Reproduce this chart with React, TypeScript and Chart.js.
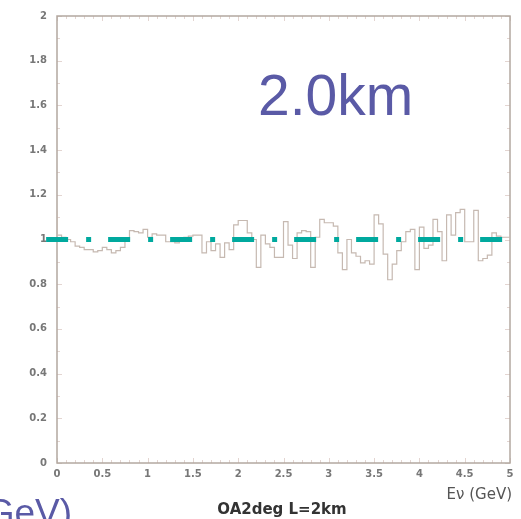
import React, { useEffect, useRef } from "react";
import { Chart, registerables } from "chart.js";

Chart.register(...registerables);

// ---- data ----
const X_MIN = 0;
const X_MAX = 5;
const BIN_WIDTH = 0.05; // GeV
const RATIO: number[] = [
  1.13, 1.02, 1.01, 1.0, 0.99, 0.97, 0.965, 0.955, 0.955, 0.945,
  0.95, 0.965, 0.955, 0.94, 0.95, 0.965, 1.0, 1.04, 1.035, 1.03,
  1.045, 1.01, 1.025, 1.02, 1.02, 0.99, 0.99, 0.985, 1.0, 1.01,
  1.015, 1.02, 1.02, 0.94, 0.99, 0.95, 0.98, 0.92, 0.985, 0.955,
  1.065, 1.085, 1.085, 1.03, 1.0, 0.875, 1.02, 0.98, 0.965, 0.92,
  0.92, 1.08, 0.975, 0.915, 1.03, 1.04, 1.035, 0.875, 1.01, 1.09,
  1.075, 1.075, 1.06, 0.94, 0.865, 1.0, 0.94, 0.925, 0.895, 0.905,
  0.89, 1.11, 1.07, 0.935, 0.82, 0.89, 0.95, 0.99, 1.035, 1.045,
  0.865, 1.055, 0.96, 0.975, 1.09, 1.035, 0.905, 1.11, 1.02, 1.12,
  1.135, 0.99, 0.99, 1.13, 0.905, 0.915, 0.93, 1.03, 1.015, 1.01,
];
const Y_MIN = 0;
const Y_MAX = 2;
const X_TICK_STEP = 0.5;
const Y_TICK_STEP = 0.2;
const REF_VALUE = 1;
const REF_LINE_X: number[] = [-0.12, 4.95];

const PANEL_LABEL = "2.0km";
const CAPTION = "OA2deg L=2km";
const X_TITLE = "E\u03bd (GeV)";
const CUT_LABEL = "GeV)";

const BLUE = "#5a5aa6";
const FRAME = "#b3a8a0";

const fmtTick = (v: any) => String(Number(Number(v).toFixed(2)));

const overlayPlugin = {
  id: "overlay",
  beforeDatasetsDraw(chart: any) {
    const { ctx, chartArea: a, scales } = chart;
    const xs = scales.x;
    const ys = scales.y;
    ctx.save();
    // faint inner ticks
    ctx.strokeStyle = "rgba(215,195,190,0.7)";
    ctx.lineWidth = 1;
    for (let i = 0; i <= 20; i++) {
      const v = Y_MIN + i * 0.1;
      const p = Math.round(ys.getPixelForValue(v)) + 0.5;
      const len = i % 2 === 0 ? 5 : 3;
      ctx.beginPath();
      ctx.moveTo(a.left, p);
      ctx.lineTo(a.left + len, p);
      ctx.moveTo(a.right, p);
      ctx.lineTo(a.right - len, p);
      ctx.stroke();
    }
    for (let i = 0; i <= 50; i++) {
      const v = X_MIN + i * 0.1;
      const p = Math.round(xs.getPixelForValue(v)) + 0.5;
      const len = i % 5 === 0 ? 5 : 3;
      ctx.beginPath();
      ctx.moveTo(p, a.bottom);
      ctx.lineTo(p, a.bottom - len);
      ctx.moveTo(p, a.top);
      ctx.lineTo(p, a.top + len);
      ctx.stroke();
    }
    // frame
    ctx.strokeStyle = FRAME;
    ctx.lineWidth = 1.5;
    ctx.strokeRect(a.left, a.top, a.right - a.left, a.bottom - a.top);
    ctx.restore();
  },
  afterDraw(chart: any) {
    const { ctx } = chart;
    ctx.save();
    ctx.fillStyle = BLUE;
    ctx.font = '57px "Liberation Sans", Arial, sans-serif';
    ctx.textAlign = "left";
    ctx.textBaseline = "alphabetic";
    ctx.fillText(PANEL_LABEL, 258, 115);

    ctx.font = '37px "Liberation Sans", Arial, sans-serif';
    ctx.textAlign = "right";
    ctx.fillText(CUT_LABEL, 72, 525);

    ctx.fillStyle = "#333";
    ctx.font = 'bold 15px "DejaVu Sans", sans-serif';
    ctx.textAlign = "center";
    ctx.fillText(CAPTION, 282, 514);

    ctx.fillStyle = "#555";
    ctx.font = '15px "DejaVu Sans", sans-serif';
    ctx.textAlign = "right";
    ctx.fillText(X_TITLE, 512, 499);
    ctx.restore();
  },
};

export default function App() {
  const ref = useRef<HTMLCanvasElement | null>(null);

  useEffect(() => {
    if (!ref.current) return;
    const histPoints = RATIO.map((v, i) => ({ x: X_MIN + i * BIN_WIDTH, y: v }));
    histPoints.push({ x: X_MIN + RATIO.length * BIN_WIDTH, y: RATIO[RATIO.length - 1] });
    const refPoints = REF_LINE_X.map((x) => ({ x, y: REF_VALUE }));

    const tickFont = { family: '"DejaVu Sans", sans-serif', size: 10, weight: "bold" as const };

    const chart = new Chart(ref.current, {
      type: "line",
      data: {
        datasets: [
          {
            label: "ratio",
            data: histPoints,
            stepped: "after",
            borderColor: "#c6b9b1",
            borderWidth: 1.2,
            pointRadius: 0,
            fill: false,
            order: 2,
          },
          {
            label: "reference",
            data: refPoints,
            borderColor: "#00a99e",
            borderWidth: 5,
            borderDash: [22, 18, 5, 17],
            borderCapStyle: "butt",
            pointRadius: 0,
            fill: false,
            clip: false as any,
            order: 1,
          },
        ],
      },
      options: {
        animation: false,
        responsive: false,
        maintainAspectRatio: false,
        layout: { padding: { top: 12, right: 11, left: 0, bottom: 0 } },
        plugins: {
          legend: { display: false },
          tooltip: { enabled: false },
          title: { display: false },
        },
        scales: {
          x: {
            type: "linear",
            min: X_MIN,
            max: X_MAX,
            grid: { display: false, drawTicks: false },
            border: { display: false },
            ticks: {
              stepSize: X_TICK_STEP,
              padding: 5,
              color: "#777",
              font: tickFont,
              maxRotation: 0,
              autoSkip: false,
              callback: fmtTick,
            },
            afterFit: (s: any) => {
              s.height = 56;
            },
          },
          y: {
            type: "linear",
            min: Y_MIN,
            max: Y_MAX,
            grid: { display: false, drawTicks: false },
            border: { display: false },
            ticks: {
              stepSize: Y_TICK_STEP,
              padding: 10,
              color: "#777",
              font: tickFont,
              autoSkip: false,
              callback: fmtTick,
            },
            afterFit: (s: any) => {
              s.width = 57;
            },
          },
        },
      },
      plugins: [overlayPlugin],
    });
    return () => chart.destroy();
  }, []);

  return (
    <div
      style={{
        position: "fixed",
        left: 0,
        top: 0,
        width: 521,
        height: 519,
        background: "#fff",
        overflow: "hidden",
      }}
    >
      <canvas ref={ref} width={521} height={519} style={{ width: 521, height: 519, display: "block" }} />
    </div>
  );
}
